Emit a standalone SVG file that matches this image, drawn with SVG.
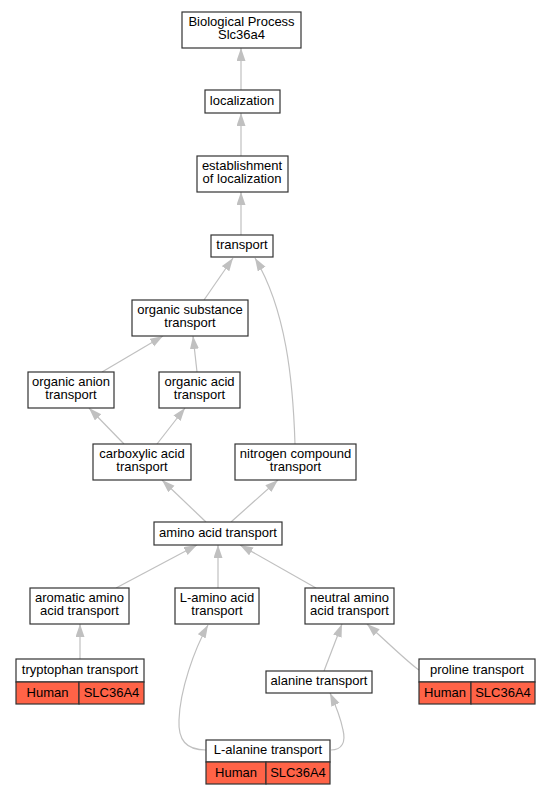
<svg xmlns="http://www.w3.org/2000/svg" width="551" height="795" viewBox="0 0 551 795">
<defs>
<marker id="ah" markerUnits="userSpaceOnUse" markerWidth="14" markerHeight="10" refX="13" refY="4.5" orient="auto">
<path d="M0,0 L13,4.5 L0,9 z" fill="#c0c0c0"/>
</marker>
</defs>
<style>
.n rect{fill:#fff;stroke:#333;stroke-width:1.2}
.n rect.g{fill:#ff6347}
text{font-family:"Liberation Sans",Arial,sans-serif;font-size:13px;fill:#000;text-anchor:middle}
#edges path{fill:none;stroke:#c0c0c0;stroke-width:1.2;marker-end:url(#ah)}
</style>
<rect width="551" height="795" fill="#fff"/>
<g id="edges">
<path d="M241,90 L241,48"/>
<path d="M241,156 L241,113"/>
<path d="M241,235 L241,192"/>
<path d="M204,300 L233,258"/>
<path d="M295,444 C293,380 286,310 255,258"/>
<path d="M102,372 L163,336"/>
<path d="M197,372 L193,336"/>
<path d="M124,444 L89,408"/>
<path d="M157,444 L185,408"/>
<path d="M206,522 L162,480"/>
<path d="M231,522 L278,480"/>
<path d="M116,588 L197,545"/>
<path d="M218,588 L218,545"/>
<path d="M316,588 L240,545"/>
<path d="M80,659 L80,624"/>
<path d="M206,750 C186,750 178,740 179,720 C180,690 194,650 208,625"/>
<path d="M324,671 L342,624"/>
<path d="M419,670 C410,664 398,652 367,624"/>
<path d="M331,750 C342,750 346,742 343,730 C341,720 336,706 330,693"/>
</g>
<g id="n_bp" class="n"><rect x="182" y="12" width="119" height="36"/><text x="241.5" y="26">Biological Process<tspan x="241.5" dy="13">Slc36a4</tspan></text></g>
<g id="n_loc" class="n"><rect x="205" y="90" width="75" height="23"/><text x="242" y="105">localization</text></g>
<g id="n_est" class="n"><rect x="197" y="156" width="91" height="36"/><text x="242" y="170">establishment<tspan x="242" dy="13">of localization</tspan></text></g>
<g id="n_tr" class="n"><rect x="211" y="235" width="62" height="22"/><text x="242" y="249">transport</text></g>
<g id="n_ost" class="n"><rect x="132" y="300" width="116" height="36"/><text x="190" y="314">organic substance<tspan x="190" dy="13">transport</tspan></text></g>
<g id="n_oan" class="n"><rect x="28" y="372" width="86" height="36"/><text x="71" y="386">organic anion<tspan x="71" dy="13">transport</tspan></text></g>
<g id="n_oac" class="n"><rect x="159" y="372" width="81" height="36"/><text x="199.5" y="386">organic acid<tspan x="199.5" dy="13">transport</tspan></text></g>
<g id="n_cat" class="n"><rect x="93" y="444" width="98" height="36"/><text x="142" y="458">carboxylic acid<tspan x="142" dy="13">transport</tspan></text></g>
<g id="n_nct" class="n"><rect x="235" y="444" width="121" height="36"/><text x="295.5" y="458">nitrogen compound<tspan x="295.5" dy="13">transport</tspan></text></g>
<g id="n_aat" class="n"><rect x="154" y="522" width="128" height="23"/><text x="218" y="537">amino acid transport</text></g>
<g id="n_arom" class="n"><rect x="30" y="588" width="99" height="36"/><text x="79.5" y="602">aromatic amino<tspan x="79.5" dy="13">acid transport</tspan></text></g>
<g id="n_laat" class="n"><rect x="175" y="588" width="84" height="36"/><text x="217" y="602">L-amino acid<tspan x="217" dy="13">transport</tspan></text></g>
<g id="n_neut" class="n"><rect x="305" y="588" width="89" height="36"/><text x="349.5" y="602">neutral amino<tspan x="349.5" dy="13">acid transport</tspan></text></g>
<g id="n_trp" class="n"><rect x="16" y="659" width="128" height="23"/><text x="80" y="674">tryptophan transport</text><rect class="g" x="16" y="682" width="63" height="22"/><rect class="g" x="79" y="682" width="65" height="22"/><text x="47.5" y="697">Human</text><text x="111.5" y="697">SLC36A4</text></g>
<g id="n_ala" class="n"><rect x="266" y="671" width="106" height="22"/><text x="319" y="685">alanine transport</text></g>
<g id="n_pro" class="n"><rect x="419" y="659" width="116" height="23"/><text x="477" y="674">proline transport</text><rect class="g" x="419" y="682" width="52" height="22"/><rect class="g" x="471" y="682" width="64" height="22"/><text x="445" y="697">Human</text><text x="503" y="697">SLC36A4</text></g>
<g id="n_lala" class="n"><rect x="206" y="740" width="124" height="22"/><text x="268" y="754">L-alanine transport</text><rect class="g" x="206" y="762" width="60" height="22"/><rect class="g" x="266" y="762" width="64" height="22"/><text x="236" y="777">Human</text><text x="298" y="777">SLC36A4</text></g>
</svg>
